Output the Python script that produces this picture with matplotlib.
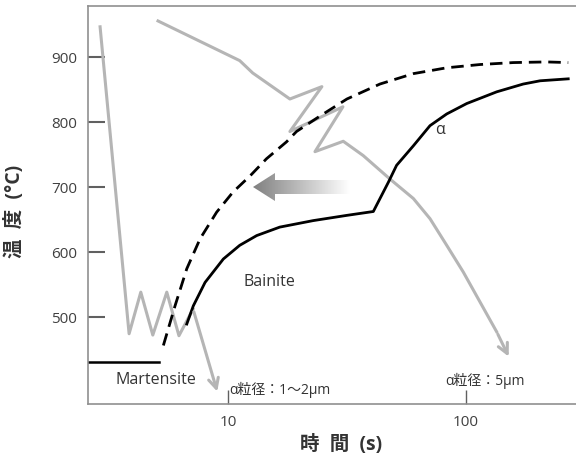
import matplotlib
matplotlib.use("Agg")
import matplotlib.pyplot as plt
import numpy as np
from matplotlib.patches import Polygon

plt.rcParams['font.family'] = ['Open Sans', 'Noto Sans CJK JP', 'DejaVu Sans']

# cooling path 1 (fast, zigzag) -> martensite
cool1_t = [2.90, 3.84, 4.30, 4.83, 5.53, 6.22, 7.13, 9.08]
cool1_T = [946, 474, 538, 472, 538, 471, 512, 381]

# cooling path 2 (slow, with zigzag) -> ferrite
cool2_t = [5.08, 11.2, 12.7, 18.2, 24.8, 18.2, 30.4, 23.2, 30.5, 37.0, 47.9, 60.1, 70.6, 83.0, 97.4, 114.5, 134.6, 153.0]
cool2_T = [955, 894, 875, 835, 854, 785, 823, 754, 770, 748, 712, 682, 651, 610, 569, 523, 477, 435]

# ferrite start (dashed)
fs_t = [5.35, 5.99, 6.71, 7.63, 8.96, 10.5, 12.4, 14.5, 17.6, 19.4, 24.4, 31.6, 43.5, 60.1, 83.0, 114.5, 158, 218, 269]
fs_T = [456, 517, 574, 620, 661, 692, 717, 743, 769, 785, 809, 835, 858, 874, 883, 888, 891, 892, 891]

# ferrite finish / bainite (solid)
ff_t = [6.71, 7.15, 8.01, 9.56, 11.2, 13.2, 16.5, 22.8, 31.5, 40.8, 47.2, 51.1, 60.1, 70.6, 83.0, 100.7, 134.6, 174, 205, 269]
ff_T = [489, 517, 553, 589, 610, 625, 638, 648, 656, 662, 707, 733, 763, 794, 812, 828, 846, 858, 863, 866]

ms_t = [2.58, 5.13]
ms_T = [431, 431]

fig = plt.figure(figsize=(5.76, 4.64), dpi=100)
ax = fig.add_axes([88/576, 1-405/464, 488/576, 398/464])
ax.set_xscale('log')

gray = '#b5b5b5'
ax.plot(cool1_t[:-1], cool1_T[:-1], color=gray, lw=2.2)
ax.annotate('', xy=(cool1_t[-1], cool1_T[-1]), xytext=(cool1_t[-2], cool1_T[-2]),
            arrowprops=dict(arrowstyle='->', color=gray, lw=2.2, mutation_scale=18))
ax.plot(cool2_t[:-1], cool2_T[:-1], color=gray, lw=2.2)
ax.annotate('', xy=(cool2_t[-1], cool2_T[-1]), xytext=(cool2_t[-2], cool2_T[-2]),
            arrowprops=dict(arrowstyle='->', color=gray, lw=2.2, mutation_scale=18))

ax.plot(fs_t, fs_T, color='black', lw=2, ls=(0, (4.5, 2.5)))
ax.plot(ff_t, ff_T, color='black', lw=2)
ax.plot(ms_t, ms_T, color='black', lw=1.8)

# gradient arrow pointing left (axes coords)
tip = (253-88)/488
head_end = (275-88)/488
tail = (350-88)/488
yc = (405-188)/398
hh = 14/398
sh = 7/398
arrow = Polygon([(tip, yc), (head_end, yc+hh), (head_end, yc+sh), (tail, yc+sh),
                 (tail, yc-sh), (head_end, yc-sh), (head_end, yc-hh)],
                closed=True, transform=ax.transAxes, facecolor='none', edgecolor='none')
ax.add_patch(arrow)
grad = np.linspace(0.5, 1.0, 256).reshape(1, -1)
im = ax.imshow(grad, cmap='gray', vmin=0, vmax=1, aspect='auto',
               extent=[tip, tail, yc-hh, yc+hh], transform=ax.transAxes, zorder=3)
im.set_clip_path(arrow)
ax.set_xlim(2.58, 290)
ax.set_ylim(366, 978)

txt = '#333333'
ax.text(15.0, 555, 'Bainite', fontsize=11.5, color=txt, ha='center', va='center')
ax.text(5.0, 405, 'Martensite', fontsize=11.5, color=txt, ha='center', va='center')
ax.text(77.5, 789, 'α', fontsize=11.5, color=txt, ha='center', va='center')
ax.text(10.1, 389, 'α粒径：1～2μm', fontsize=10, color=txt, ha='left', va='center')
ax.text(82, 403, 'α粒径：5μm', fontsize=10, color=txt, ha='left', va='center')

ax.spines['right'].set_visible(False)
for s in ['left', 'bottom', 'top']:
    ax.spines[s].set_color('#909090')
    ax.spines[s].set_linewidth(1.2)

ax.set_xticks([10, 100])
ax.set_xticklabels(['10', '100'])
ax.xaxis.set_minor_locator(matplotlib.ticker.NullLocator())
ax.set_yticks([500, 600, 700, 800, 900])
ax.tick_params(axis='y', direction='in', length=12, width=1.5, color='#606060',
               labelsize=11, labelcolor='#404040', pad=8)
ax.tick_params(axis='x', direction='in', length=10, width=1, color='#606060',
               labelsize=11, labelcolor='#404040', pad=7)

fig.text(15/576, 1-211/464, '温  度  (°C)', rotation=90, fontsize=14, fontweight='bold',
         color=txt, ha='center', va='center')
fig.text(341/576, 1-445/464, '時  間  (s)', fontsize=14, fontweight='bold',
         color=txt, ha='center', va='center')

fig.savefig('out.png', dpi=100)
